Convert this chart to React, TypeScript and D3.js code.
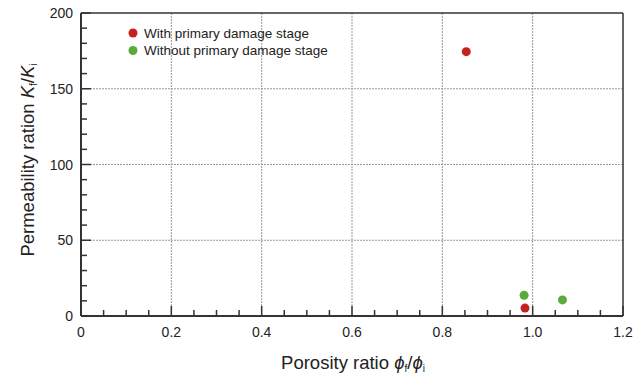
import React from 'react';
import * as d3 from 'd3';

const withStageX = [0.853, 0.983];
const withStageY = [174.5, 5.2];
const withoutStageX = [0.981, 1.066];
const withoutStageY = [13.7, 10.6];

const xMajorTicks = [0, 0.2, 0.4, 0.6, 0.8, 1.0, 1.2];
const xTickLabels = ['0', '0.2', '0.4', '0.6', '0.8', '1.0', '1.2'];
const yMajorTicks = [0, 50, 100, 150, 200];

const legendLabels = ['With primary damage stage', 'Without primary damage stage'];
const colors = { red: '#c4221f', green: '#5aab3c' };

export default function App() {
  const width = 644;
  const height = 380;
  const margin = { top: 13, right: 21, bottom: 64, left: 81 };
  const innerWidth = width - margin.left - margin.right;
  const innerHeight = height - margin.top - margin.bottom;

  const x = d3.scaleLinear().domain([0, 1.2]).range([0, innerWidth]);
  const y = d3.scaleLinear().domain([0, 200]).range([innerHeight, 0]);

  const xMinor = d3.range(0.05, 1.2, 0.05).filter(v => Math.abs(v / 0.2 - Math.round(v / 0.2)) > 0.01);
  const yMinor = d3.range(10, 200, 10).filter(v => v % 50 !== 0);

  const font = 'Arial, "Liberation Sans", sans-serif';

  return (
    <svg width={width} height={height} style={{ position: 'absolute', left: 0, top: 0, background: '#fff' }} fontFamily={font}>
      <g transform={`translate(${margin.left},${margin.top})`}>
        {/* grid */}
        {xMajorTicks.slice(1, -1).map(t => (
          <line key={`gx${t}`} x1={x(t)} x2={x(t)} y1={0} y2={innerHeight} stroke="#999" strokeWidth={1} strokeDasharray="2 1" />
        ))}
        {yMajorTicks.slice(1, -1).map(t => (
          <line key={`gy${t}`} x1={0} x2={innerWidth} y1={y(t)} y2={y(t)} stroke="#999" strokeWidth={1} strokeDasharray="2 1" />
        ))}

        {/* frame */}
        <line x1={0} x2={innerWidth} y1={0} y2={0} stroke="#333" strokeWidth={1.5} />
        <line x1={innerWidth} x2={innerWidth} y1={0} y2={innerHeight} stroke="#333" strokeWidth={1.5} />
        <line x1={0} x2={0} y1={0} y2={innerHeight} stroke="#333" strokeWidth={2} />
        <line x1={0} x2={innerWidth} y1={innerHeight} y2={innerHeight} stroke="#333" strokeWidth={2} />

        {/* x ticks (inward) */}
        {xMajorTicks.map(t => (
          <line key={`xt${t}`} x1={x(t)} x2={x(t)} y1={innerHeight} y2={innerHeight - 10} stroke="#333" strokeWidth={1.5} />
        ))}
        {xMinor.map(t => (
          <line key={`xm${t}`} x1={x(t)} x2={x(t)} y1={innerHeight} y2={innerHeight - 6} stroke="#333" strokeWidth={1.5} />
        ))}
        {xMajorTicks.map((t, i) => (
          <text key={`xl${t}`} x={x(t)} y={innerHeight + 21} textAnchor="middle" fontSize={14} fill="#222">{xTickLabels[i]}</text>
        ))}

        {/* y ticks (inward) */}
        {yMajorTicks.map(t => (
          <line key={`yt${t}`} x1={0} x2={10} y1={y(t)} y2={y(t)} stroke="#333" strokeWidth={1.5} />
        ))}
        {yMinor.map(t => (
          <line key={`ym${t}`} x1={0} x2={6} y1={y(t)} y2={y(t)} stroke="#333" strokeWidth={1.5} />
        ))}
        {yMajorTicks.map(t => (
          <text key={`yl${t}`} x={-8} y={y(t)} textAnchor="end" dominantBaseline="central" fontSize={14} fill="#222">{t}</text>
        ))}

        {/* points */}
        {withStageX.map((v, i) => (
          <circle key={`r${i}`} cx={x(v)} cy={y(withStageY[i])} r={4.5} fill={colors.red} />
        ))}
        {withoutStageX.map((v, i) => (
          <circle key={`g${i}`} cx={x(v)} cy={y(withoutStageY[i])} r={4.5} fill={colors.green} />
        ))}

        {/* legend */}
        {legendLabels.map((label, i) => (
          <g key={label} transform={`translate(52,${20 + i * 17.5})`}>
            <circle cx={0} cy={0} r={4.5} fill={i === 0 ? colors.red : colors.green} />
            <text x={11} y={0} dominantBaseline="central" fontSize={13.5} fill="#222">{label}</text>
          </g>
        ))}
      </g>

      {/* axis titles */}
      <text x={353} y={369} textAnchor="middle" fontSize={18.5} fill="#222">
        Porosity ratio <tspan fontStyle="italic">ϕ</tspan><tspan fontSize={10} dy={3}>f</tspan><tspan dy={-3}>/</tspan><tspan fontStyle="italic">ϕ</tspan><tspan fontSize={10} dy={3}>i</tspan>
      </text>
      <text transform="translate(34,160) rotate(-90)" textAnchor="middle" fontSize={18.5} fill="#222">
        Permeability ration <tspan fontStyle="italic">K</tspan><tspan fontSize={10} dy={3}>f</tspan><tspan dy={-3}>/</tspan><tspan fontStyle="italic">K</tspan><tspan fontSize={10} dy={3}>i</tspan>
      </text>
    </svg>
  );
}
